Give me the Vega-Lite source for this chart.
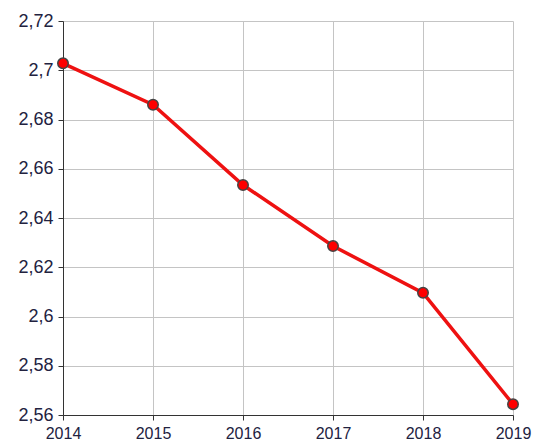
{
  "$schema": "https://vega.github.io/schema/vega-lite/v6.json",
  "width": 450,
  "height": 394,
  "autosize": {"type": "none"},
  "padding": {"left": 63, "top": 21, "right": 25, "bottom": 32},
  "background": "white",
  "config": {
    "view": {"stroke": null},
    "font": "Liberation Sans"
  },
  "data": {
    "values": [
      {"year": 2014, "value": 2.7028},
      {"year": 2015, "value": 2.686},
      {"year": 2016, "value": 2.6534},
      {"year": 2017, "value": 2.6286},
      {"year": 2018, "value": 2.6096},
      {"year": 2019, "value": 2.5644}
    ]
  },
  "encoding": {
    "x": {
      "field": "year",
      "type": "quantitative",
      "scale": {"domain": [2014, 2019], "nice": false, "zero": false},
      "axis": {
        "title": null,
        "values": [2014, 2015, 2016, 2017, 2018, 2019],
        "format": "d",
        "grid": true,
        "gridColor": "#c4c4c4",
        "gridOpacity": 1,
        "domainColor": "#333333",
        "tickColor": "#333333",
        "tickSize": 5,
        "labelColor": "#22223f",
        "labelFontSize": 16,
        "labelPadding": 5,
        "labelFlush": false,
        "labelOverlap": false
      }
    },
    "y": {
      "field": "value",
      "type": "quantitative",
      "scale": {"domain": [2.56, 2.72], "nice": false, "zero": false},
      "axis": {
        "title": null,
        "values": [2.56, 2.58, 2.6, 2.62, 2.64, 2.66, 2.68, 2.7, 2.72],
        "labelExpr": "replace(format(datum.value, '~g'), '.', ',')",
        "grid": true,
        "gridColor": "#c4c4c4",
        "gridOpacity": 1,
        "domainColor": "#333333",
        "tickColor": "#333333",
        "tickSize": 5,
        "labelColor": "#22223f",
        "labelFontSize": 18,
        "labelPadding": 5,
        "labelOverlap": false
      }
    }
  },
  "layer": [
    {
      "mark": {"type": "line", "color": "#ee1111", "strokeWidth": 3.5, "clip": false}
    },
    {
      "mark": {"type": "point", "filled": true, "fill": "#ff0000", "stroke": "#444444", "strokeWidth": 1.5, "size": 110, "opacity": 1, "clip": false}
    }
  ]
}
